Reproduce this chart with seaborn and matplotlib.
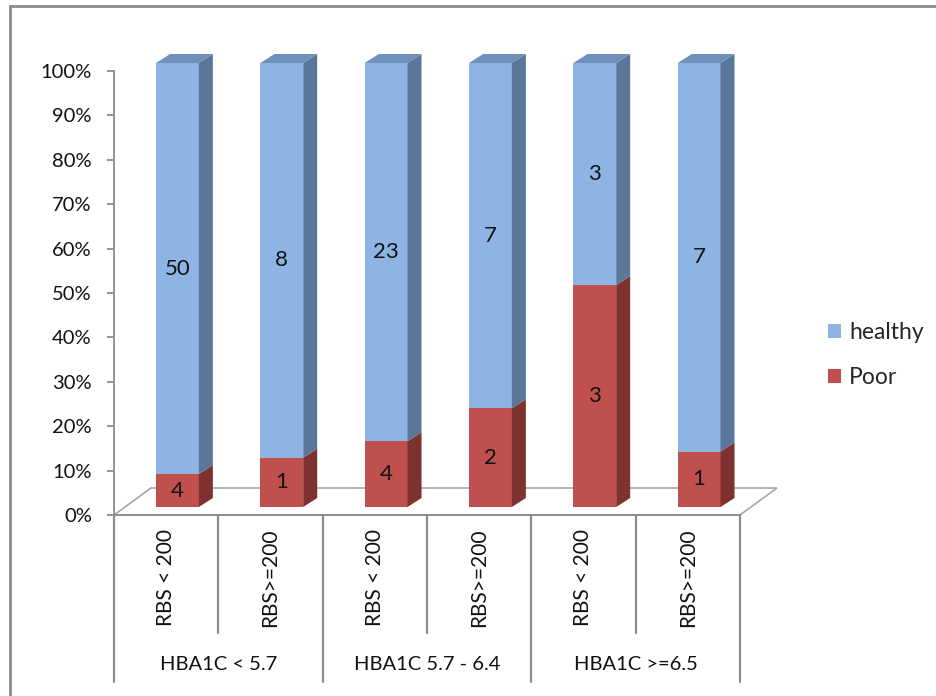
import matplotlib
matplotlib.use("Agg")
import matplotlib.pyplot as plt
from matplotlib.patches import Polygon, Patch
from matplotlib.lines import Line2D
from matplotlib.transforms import ScaledTranslation, blended_transform_factory
import numpy as np
import pandas as pd
import seaborn as sns

# ---- data -------------------------------------------------------------
sub_labels = ["RBS < 200", "RBS>=200", "RBS < 200", "RBS>=200", "RBS < 200", "RBS>=200"]
group_labels = ["HBA1C < 5.7", "HBA1C 5.7 - 6.4", "HBA1C >=6.5"]
poor_counts = [4, 1, 4, 2, 3, 1]
healthy_counts = [50, 8, 23, 7, 3, 7]
y_ticks = [0, 10, 20, 30, 40, 50, 60, 70, 80, 90, 100]

# ---- styling ------------------------------------------------------------
BLUE, BLUE_SIDE, BLUE_TOP = "#8DB4E3", "#5A7799", "#6F90BA"
RED, RED_SIDE = "#C0504D", "#7E3230"
GRID = "#8C8C8C"
FLOOR = "#A6A6A6"
TXT = "#111111"

sns.set_style("white")
plt.rcParams["font.family"] = ["Lato", "DejaVu Sans"]

W, H, DPI = 937, 696, 100
fig = plt.figure(figsize=(W / DPI, H / DPI), dpi=DPI)

# plot area in pixels
X0, X1, Y0, Y1 = 114, 740, 515, 71
ax = fig.add_axes([X0 / W, 1 - Y0 / H, (X1 - X0) / W, (Y0 - Y1) / H])

n = len(sub_labels)
poor = np.array(poor_counts, float)
healthy = np.array(healthy_counts, float)
total = poor + healthy
poor_pct = poor / total * 100

df = pd.DataFrame({"cat": [f"c{i}" for i in range(n)],
                   "total": total / total * 100,
                   "poor": poor_pct})

BW = 0.41
sns.barplot(data=df, x="cat", y="total", color=BLUE, width=BW, saturation=1,
            ax=ax, linewidth=0, zorder=3)
sns.barplot(data=df, x="cat", y="poor", color=RED, width=BW, saturation=1,
            ax=ax, linewidth=0, zorder=4)

ax.set_xlim(-0.5, n - 0.5)
ax.set_ylim(0, 100)

# pixel -> data scale factors
ppx = (X1 - X0) / n
ppy = (Y0 - Y1) / 100.0

# 3-D look: front faces shifted into depth, plus side and top faces
shift = ScaledTranslation(11.3 / DPI, 8 / DPI, fig.dpi_scale_trans)
tr = ax.transData + shift
for p in ax.patches:
    p.set_transform(tr)
    p.set_clip_on(False)

ddx, ddy = 14 / ppx, 9 / ppy
for i in range(n):
    xl, xr = i - BW / 2, i + BW / 2
    segs = [(0, poor_pct[i], RED_SIDE, 5), (poor_pct[i], 100, BLUE_SIDE, 5)]
    for lo, hi, col, z in segs:
        ax.add_patch(Polygon([(xr, lo), (xr + ddx, lo + ddy), (xr + ddx, hi + ddy), (xr, hi)],
                             closed=True, facecolor=col, edgecolor="none",
                             transform=tr, clip_on=False, zorder=z))
    ax.add_patch(Polygon([(xl, 100), (xr, 100), (xr + ddx, 100 + ddy), (xl + ddx, 100 + ddy)],
                         closed=True, facecolor=BLUE_TOP, edgecolor="none",
                         transform=tr, clip_on=False, zorder=5))
    # value labels
    ax.text(i, poor_pct[i] / 2, f"{poor_counts[i]}", transform=tr, ha="center", va="center",
            fontsize=16, color=TXT, zorder=6)
    ax.text(i, (poor_pct[i] + 100) / 2, f"{healthy_counts[i]}", transform=tr, ha="center",
            va="center", fontsize=16, color=TXT, zorder=6)

# floor of the 3-D plot
fdx, fdy = 37 / ppx, 27 / ppy
ax.add_patch(Polygon([(-0.5, 0), (n - 0.5, 0), (n - 0.5 + fdx, fdy), (-0.5 + fdx, fdy)],
                     closed=True, facecolor="white", edgecolor=FLOOR, linewidth=1.2,
                     clip_on=False, zorder=1))

# axes styling
for s in ["top", "right"]:
    ax.spines[s].set_visible(False)
for s in ["left", "bottom"]:
    ax.spines[s].set_color(GRID)
    ax.spines[s].set_linewidth(1.3)
    ax.spines[s].set_zorder(2)
ax.set_yticks(y_ticks)
ax.set_yticklabels([f"{v}%" for v in y_ticks], fontsize=14.5, color=TXT)
ax.tick_params(axis="y", direction="out", length=5, width=1.3, color=GRID, pad=11, left=True)
ax.set_xticks([])
ax.set_xlabel("")
ax.set_ylabel("")
ax.grid(False)

# two-level category axis below the plot
bt = blended_transform_factory(ax.transData, fig.transFigure)
y_top = 1 - Y0 / H
y_inner = 1 - 633 / H
y_outer = 1 - 682 / H
for k in range(n + 1):
    xb = k - 0.5
    yb = y_outer if k % 2 == 0 else y_inner
    ax.add_line(Line2D([xb, xb], [y_top, yb], transform=bt, color=GRID, lw=1.6, clip_on=False))
for i, lab in enumerate(sub_labels):
    ax.text(i, 1 - 578 / H, lab, transform=bt, rotation=90, ha="center", va="center",
            fontsize=15, color=TXT)
for g, lab in enumerate(group_labels):
    ax.text(2 * g + 0.5, 1 - 665 / H, lab, transform=bt, ha="center", va="center",
            fontsize=14.5, color=TXT)

# legend
handles = [Patch(facecolor=BLUE, edgecolor="none", label="healthy"),
           Patch(facecolor=RED, edgecolor="none", label="Poor")]
fig.legend(handles=handles, loc="center left", bbox_to_anchor=(817 / W, 1 - 355 / H),
           frameon=False, fontsize=16.5, handlelength=0.55, handleheight=0.55,
           handletextpad=0.35, labelspacing=1.05, borderpad=0)

# chart frame
fig.add_artist(Line2D([10 / W, 10 / W], [0, 1 - 6 / H], transform=fig.transFigure,
                      color=GRID, lw=2))
fig.add_artist(Line2D([10 / W, 1], [1 - 6 / H, 1 - 6 / H], transform=fig.transFigure,
                      color=GRID, lw=2))

fig.savefig("out.png", dpi=DPI, facecolor="white")
